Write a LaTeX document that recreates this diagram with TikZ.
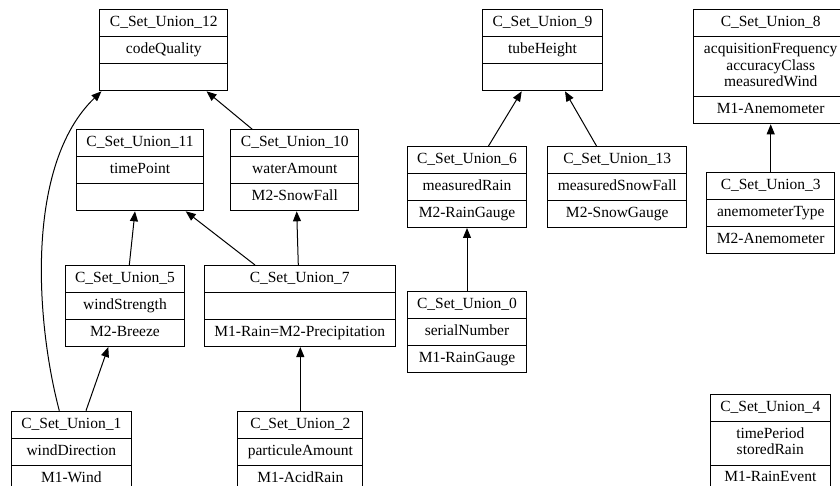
\documentclass[tikz,border=0pt]{standalone}
\usepackage{fontspec}
\setmainfont{Liberation Serif}
\usepackage{tikz}
\usetikzlibrary{shapes.multipart,arrows.meta,calc}

\begin{document}
\begin{tikzpicture}[x=1pt,y=-1pt]
  \tikzstyle{umlbox}=[rectangle split,rectangle split parts=3,draw=black,line width=1pt,
    inner xsep=10pt,inner ysep=4.75pt,align=center,anchor=north,
    font=\fontsize{15.5}{16.5}\selectfont]
  \tikzstyle{link}=[-{Triangle[length=10pt,width=8pt]},line width=1pt]
  \useasboundingbox (0,0) rectangle (840,486);
  \clip (0,0) rectangle (840,486);

  % top row
  \draw (163.8,9.3) node[umlbox] (U12){\strut C\_Set\_Union\_12\nodepart{two}\strut codeQuality\nodepart{three}\strut};
  \draw (542.5,9.3) node[umlbox] (U9){\strut C\_Set\_Union\_9\nodepart{two}\strut tubeHeight\nodepart{three}\strut};
  \draw (770.7,9.3) node[umlbox] (U8){\strut C\_Set\_Union\_8\nodepart{two}\strut acquisitionFrequency\\\strut accuracyClass\\\strut measuredWind\nodepart{three}\strut M1-Anemometer};

  % second row
  \draw (140,129.3) node[umlbox] (U11){\strut C\_Set\_Union\_11\nodepart{two}\strut timePoint\nodepart{three}\strut};
  \draw (294.8,129.3) node[umlbox] (U10){\strut C\_Set\_Union\_10\nodepart{two}\strut waterAmount\nodepart{three}\strut M2-SnowFall};
  \draw (467,146) node[umlbox] (U6){\strut C\_Set\_Union\_6\nodepart{two}\strut measuredRain\nodepart{three}\strut M2-RainGauge};
  \draw (617.2,146) node[umlbox] (U13){\strut C\_Set\_Union\_13\nodepart{two}\strut measuredSnowFall\nodepart{three}\strut M2-SnowGauge};
  \draw (770.7,172) node[umlbox] (U3){\strut C\_Set\_Union\_3\nodepart{two}\strut anemometerType\nodepart{three}\strut M2-Anemometer};

  % third row
  \draw (125,265) node[umlbox] (U5){\strut C\_Set\_Union\_5\nodepart{two}\strut windStrength\nodepart{three}\strut M2-Breeze};
  \draw (299.7,265) node[umlbox] (U7){\strut C\_Set\_Union\_7\nodepart{two}\strut\nodepart{three}\strut M1-Rain=M2-Precipitation};
  \draw (467,291) node[umlbox] (U0){\strut C\_Set\_Union\_0\nodepart{two}\strut serialNumber\nodepart{three}\strut M1-RainGauge};

  % bottom row
  \draw (71.3,410.7) node[umlbox] (U1){\strut C\_Set\_Union\_1\nodepart{two}\strut windDirection\nodepart{three}\strut M1-Wind};
  \draw (300.3,410.7) node[umlbox] (U2){\strut C\_Set\_Union\_2\nodepart{two}\strut particuleAmount\nodepart{three}\strut M1-AcidRain};
  \draw (770.3,394) node[umlbox] (U4){\strut C\_Set\_Union\_4\nodepart{two}\strut timePeriod\\\strut storedRain\nodepart{three}\strut M1-RainEvent};

  % edges
  \draw[link] ([xshift=-12pt]U1.north) .. controls +(-24,-91) and +(-76,73) .. ([xshift=2pt]U12.south west);
  \draw[link] ([xshift=14.7pt]U1.north) -- ([xshift=-16.7pt]U5.south);
  \draw[link] ([xshift=4.3pt]U5.north) -- ([xshift=-5pt]U11.south);
  \draw[link] ([xshift=-44.7pt]U7.north) -- ([xshift=45.7pt]U11.south);
  \draw[link] ([xshift=-1.4pt]U7.north) -- ([xshift=1.9pt]U10.south);
  \draw[link] (U2.north) -- (U2.north |- U7.south);
  \draw[link] ([xshift=-42.5pt]U10.north) -- ([xshift=42.7pt]U12.south);
  \draw[link] ([xshift=21.5pt]U6.north) -- ([xshift=-20.8pt]U9.south);
  \draw[link] ([xshift=-20.7pt]U13.north) -- ([xshift=22.5pt]U9.south);
  \draw[link] (U0.north) -- (U6.south);
  \draw[link] (U3.north) -- (U8.south);
\end{tikzpicture}
\end{document}
